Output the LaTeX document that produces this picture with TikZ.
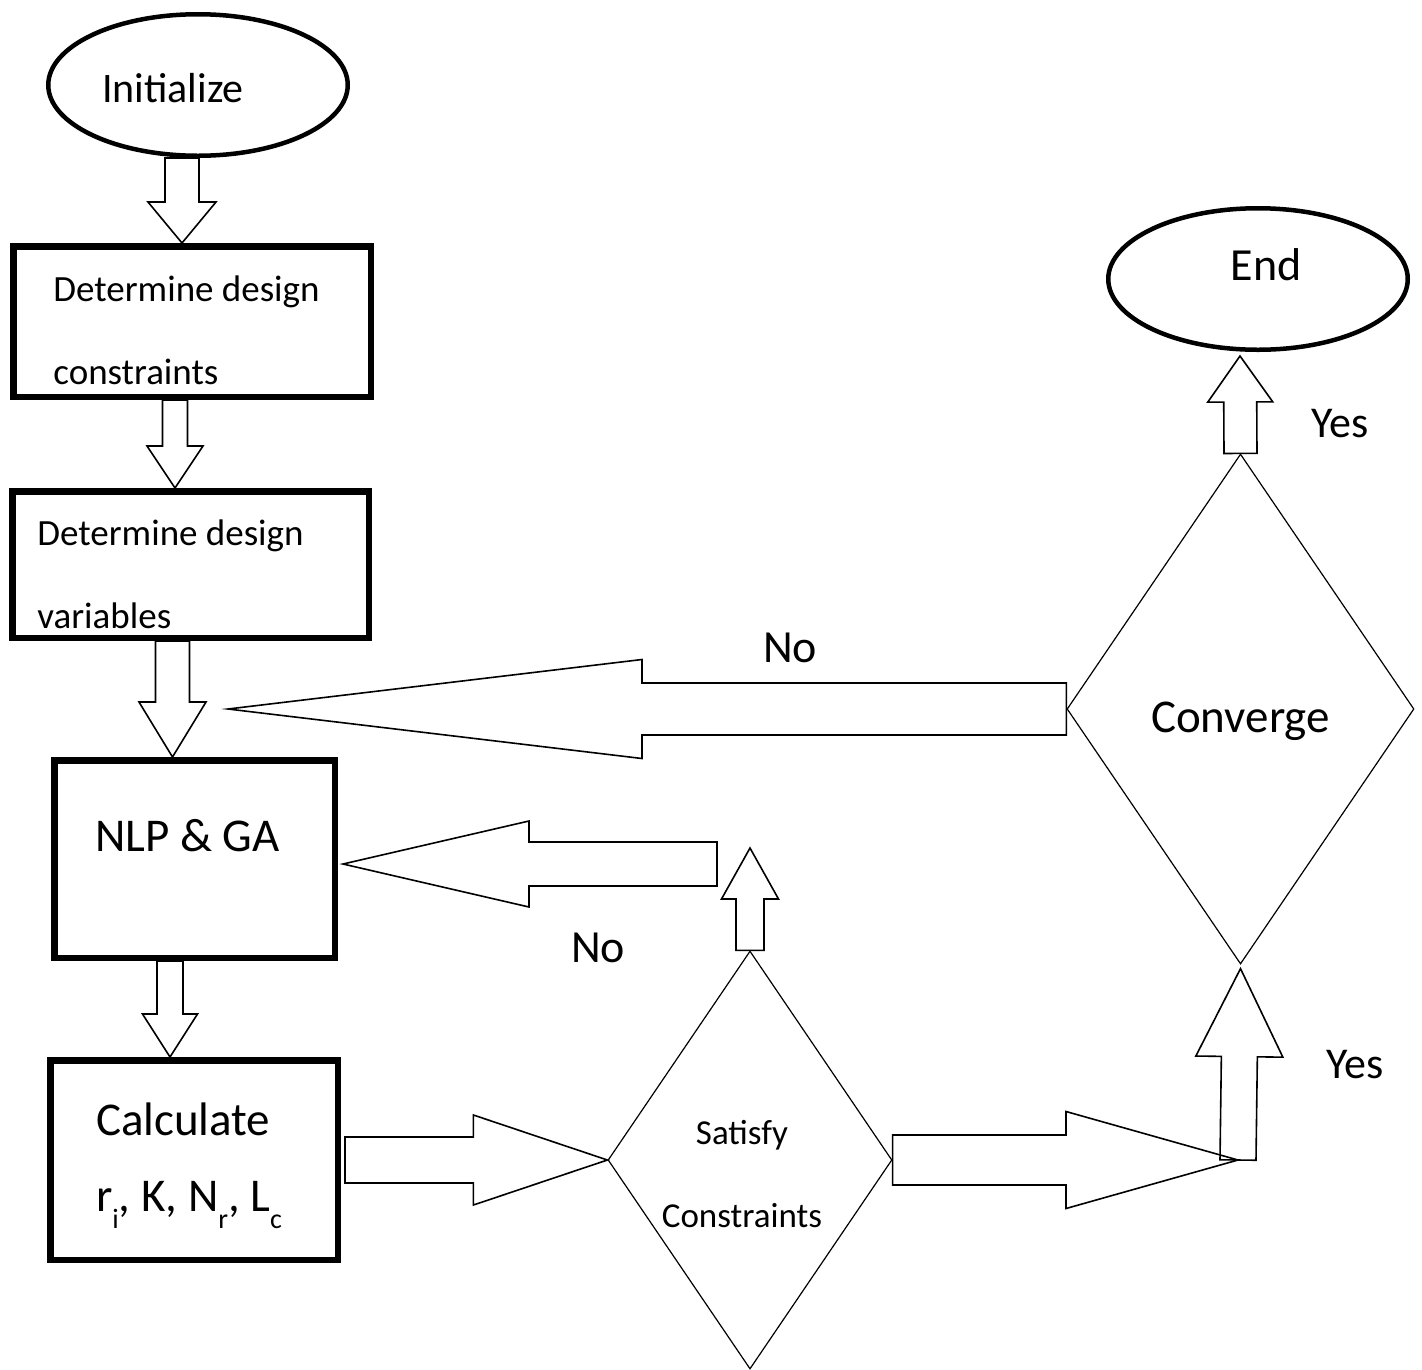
\documentclass[tikz,border=0pt]{standalone}
\usepackage{fontspec}
\setmainfont{Carlito}
\usepackage{tikz}
\usetikzlibrary{calc}
\usetikzlibrary{shapes.geometric}

\newcommand{\lowsub}[1]{\raisebox{-17pt}{\fontsize{28}{28}\selectfont #1}}
% hollow block arrow: from, to, shaft half width, head half width, head length
\newcommand{\fatarrow}[5]{%
  \path ($(#2)!#5!(#1)$) coordinate (ah);
  \draw [fatline] ($(#1)!#3!90:(#2)$) -- ($(ah)!#3!90:(#2)$) -- ($(ah)!#4!90:(#2)$) -- (#2)
    -- ($(ah)!#4!-90:(#2)$) -- ($(ah)!#3!-90:(#2)$) -- ($(#1)!#3!-90:(#2)$) -- cycle;
}

\begin{document}
\begin{tikzpicture}[x=1pt, y=-1pt,
    oval/.style={draw, ellipse, line width=4.5pt, minimum width=299.5pt, minimum height=141.5pt},
    stepbox/.style={draw, rectangle, line width=6.5pt},
    choice/.style={draw, diamond, line width=1.2pt, inner sep=0pt},
    fatline/.style={line width=1.6pt, line join=miter},
    bigtxt/.style={font=\fontsize{46}{55}\selectfont},
    initxt/.style={font=\fontsize{42}{50}\selectfont},
    boxtxt/.style={font=\fontsize{37}{83}\selectfont, align=left},
    calctxt/.style={font=\fontsize{47}{76}\selectfont, align=left},
    choicetxt/.style={font=\fontsize{35}{83}\selectfont, align=center}]
    \path [use as bounding box, fill=white] (0,0) rectangle (1422,1369);

    \node (init) [oval, label={[initxt, xshift=-25pt, yshift=-3.5pt]center:Initialize}] at (198,85) {};
    \node (cons) [stepbox, minimum width=357.5pt, minimum height=150.5pt,
        label={[boxtxt, xshift=-5.5pt, yshift=-9pt]center:Determine design\\constraints}] at (192,321.5) {};
    \node (vars) [stepbox, minimum width=356.5pt, minimum height=146.5pt,
        label={[boxtxt, xshift=-20pt, yshift=-9.5pt]center:Determine design\\variables}] at (190.5,564.5) {};
    \node (nlp) [stepbox, minimum width=280.5pt, minimum height=197.5pt,
        label={[bigtxt, font=\fontsize{47}{55}\selectfont, xshift=-7pt, yshift=23.5pt]center:NLP \& GA}] at (194.5,859) {};
    \node (calc) [stepbox, minimum width=287.5pt, minimum height=199.5pt,
        label={[calctxt, xshift=-5pt, yshift=-6pt]center:Calculate\\r\lowsub{i}, K, N\lowsub{r}, L\lowsub{c}}] at (194,1160) {};
    \node (sat) [choice, minimum width=284pt, minimum height=418pt,
        label={[choicetxt, xshift=-8pt, yshift=-14pt]center:Satisfy\\Constraints}] at (750,1160) {};
    \node (conv) [choice, minimum width=347pt, minimum height=510pt,
        label={[bigtxt, font=\fontsize{47}{55}\selectfont, yshift=-12pt]center:Converge}] at (1240.5,709) {};
    \node (end) [oval, label={[bigtxt, xshift=8pt, yshift=14pt]center:End}] at (1258,279) {};

    \coordinate (j) at (1238,1160);
    \coordinate (backtip) at (228,709);
    \coordinate (loopend) at (717,864);
    \coordinate (uptip) at (750,848);

    \fatarrow{[xshift=-16pt]init.south}{[xshift=-10pt]cons.north}{17pt}{34pt}{41pt}
    \fatarrow{[xshift=-17pt]cons.south}{[xshift=-15.5pt]vars.north}{12.5pt}{28pt}{42pt}
    \fatarrow{[xshift=-18pt]vars.south}{[xshift=-22pt]nlp.north}{17pt}{33.5pt}{55pt}
    \fatarrow{[xshift=-24.5pt]nlp.south}{[xshift=-24pt]calc.north}{13pt}{27.5pt}{43pt}
    \fatarrow{[xshift=4pt]calc.east}{sat.west}{23pt}{45pt}{134pt}
    \fatarrow{sat.east}{j}{25pt}{48.5pt}{172pt}
    \fatarrow{j}{[yshift=-4pt]conv.south}{18pt}{43.5pt}{88pt}
    \fatarrow{conv.north}{[xshift=-18pt, yshift=-4pt]end.south}{16.5pt}{32.5pt}{46pt}
    \fatarrow{conv.west}{backtip}{26pt}{49.5pt}{414pt}
    \fatarrow{loopend}{[xshift=5pt, yshift=-5pt]nlp.east}{22pt}{43pt}{186pt}
    \fatarrow{sat.north}{uptip}{14pt}{28.5pt}{51pt}

    \node (no1) [bigtxt, anchor=base] at (790,662) {No};
    \node (no2) [bigtxt, anchor=base] at (598,962) {No};
    \node (yes1) [bigtxt, font=\fontsize{44}{52}\selectfont, anchor=base] at (1340,437) {Yes};
    \node (yes2) [bigtxt, font=\fontsize{44}{52}\selectfont, anchor=base] at (1355,1078) {Yes};
\end{tikzpicture}
\end{document}
